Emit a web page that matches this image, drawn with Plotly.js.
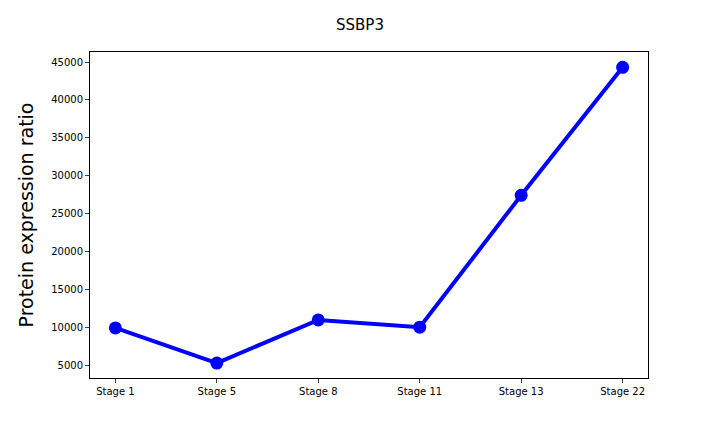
<html>
<head>
<script src="https://cdn.plot.ly/plotly-3.0.1.min.js"></script>
</head>
<body style="margin:0">
<div id="chart" style="width:720px;height:432px"></div>
<script>
// stages and measured ratios for SSBP3
var stages = ["Stage 1", "Stage 5", "Stage 8", "Stage 11", "Stage 13", "Stage 22"];
var ratios = [9900, 5250, 10950, 10000, 27400, 44300];

var trace = {
  x: stages, y: ratios,
  mode: 'lines+markers', type: 'scatter',
  line: {color: '#0000ff', width: 4},
  marker: {color: '#0000ff', size: 13}
};
var layout = {
  width: 720, height: 432,
  margin: {l: 90, r: 72, t: 52, b: 54},
  paper_bgcolor: 'white', plot_bgcolor: 'white',
  font: {family: 'DejaVu Sans', size: 10, color: '#000'},
  title: {text: 'SSBP3', x: 0.5, xanchor: 'center', y: 0.955, font: {size: 15}},
  showlegend: false,
  xaxis: {range: [-0.25, 5.25], showline: true, mirror: true, linecolor: '#000',
          ticks: 'outside', ticklen: 4, showgrid: false, zeroline: false},
  yaxis: {range: [3284, 46320], showline: true, mirror: true, linecolor: '#000',
          ticks: 'outside', ticklen: 4, showgrid: false, zeroline: false,
          tickvals: [5000,10000,15000,20000,25000,30000,35000,40000,45000],
          tickformat: 'd',
          title: {text: 'Protein expression ratio', font: {size: 19}, standoff: 12}}
};
Plotly.newPlot('chart', [trace], layout, {staticPlot: true});
</script>
</body>
</html>
